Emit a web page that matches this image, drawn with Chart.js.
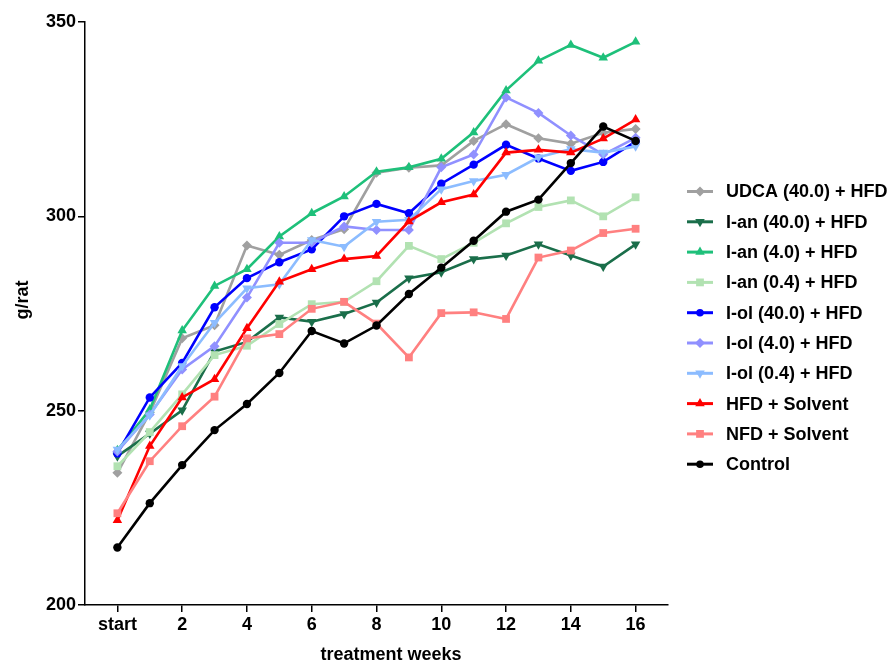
<!DOCTYPE html>
<html>
<head>
<meta charset="utf-8">
<script src="https://cdn.jsdelivr.net/npm/chart.js@4"></script>
<style>
  html, body { margin: 0; padding: 0; background: #fff; }
  #wrap { width: 896px; height: 662px; }
</style>
</head>
<body>
<div id="wrap"><canvas id="weights" width="896" height="662"></canvas></div>
<script>
// body weight per group, week 0 ("start") to week 16
const weeks = [0, 1, 2, 3, 4, 5, 6, 7, 8, 9, 10, 11, 12, 13, 14, 15, 16];
const tickWeeks = [0, 2, 4, 6, 8, 10, 12, 14, 16];
const tickLabels = ["start", "2", "4", "6", "8", "10", "12", "14", "16"];

const udca40 = [234.0, 249.5, 268.6, 272.0, 292.5, 290.1, 293.9, 296.7, 311.2, 312.5, 313.1, 319.4, 323.7, 320.1, 318.7, 321.5, 322.5];
const ian40 = [238.3, 244.1, 250.1, 265.2, 267.7, 274.0, 272.9, 274.9, 277.8, 284.1, 285.6, 289.0, 289.9, 292.8, 289.9, 287.1, 292.8];
const ian4 = [239.8, 250.3, 270.6, 282.1, 286.4, 294.8, 300.8, 305.1, 311.5, 312.6, 314.8, 321.6, 332.4, 340.0, 344.1, 340.8, 344.9];
const ian04 = [235.7, 244.5, 254.2, 264.3, 266.7, 272.3, 277.4, 278.0, 283.3, 292.4, 289.0, 293.2, 298.2, 302.4, 304.1, 300.0, 304.9];
const iol40 = [239.0, 253.4, 262.3, 276.6, 284.1, 288.2, 291.5, 300.0, 303.2, 300.8, 308.4, 313.3, 318.4, 314.9, 311.7, 314.0, 319.2];
const iol4 = [239.5, 249.0, 260.6, 266.6, 279.1, 293.2, 293.2, 297.4, 296.5, 296.5, 312.6, 315.9, 330.6, 326.6, 320.8, 315.9, 320.2];
const iol04 = [240.0, 248.8, 261.5, 272.6, 281.5, 282.5, 293.9, 292.2, 298.6, 299.1, 307.0, 309.1, 310.7, 315.2, 317.3, 316.4, 318.0];
const hfdSolvent = [221.8, 240.9, 253.4, 258.1, 271.2, 283.2, 286.4, 289.0, 289.8, 298.7, 303.6, 305.6, 316.4, 317.1, 316.4, 320.0, 324.9];
const nfdSolvent = [223.6, 237.0, 246.0, 253.6, 268.6, 269.7, 276.2, 278.0, 272.4, 263.7, 275.1, 275.3, 273.6, 289.4, 291.2, 295.7, 296.8];
const control = [214.8, 226.2, 236.0, 245.0, 251.7, 259.7, 270.5, 267.3, 271.9, 280.0, 286.8, 293.7, 301.2, 304.3, 313.7, 323.1, 319.4];

const FONT = "'Liberation Sans', Arial, sans-serif";

const groups = [
  { label: "UDCA (40.0) + HFD", data: udca40, color: "#a0a0a0", style: "rectRot", rot: 0, r: 5 },
  { label: "I-an (40.0) + HFD", data: ian40, color: "#1a6e4a", style: "triangle", rot: 180, r: 5.5 },
  { label: "I-an (4.0) + HFD", data: ian4, color: "#1ec07a", style: "triangle", rot: 0, r: 5.5 },
  { label: "I-an (0.4) + HFD", data: ian04, color: "#b2e2b2", style: "rect", rot: 0, r: 5.5 },
  { label: "I-ol (40.0) + HFD", data: iol40, color: "#0000ff", style: "circle", rot: 0, r: 4.2 },
  { label: "I-ol (4.0) + HFD", data: iol4, color: "#9090ff", style: "rectRot", rot: 0, r: 5 },
  { label: "I-ol (0.4) + HFD", data: iol04, color: "#8cbcff", style: "triangle", rot: 180, r: 5.5 },
  { label: "HFD + Solvent", data: hfdSolvent, color: "#ff0000", style: "triangle", rot: 0, r: 5.5 },
  { label: "NFD + Solvent", data: nfdSolvent, color: "#ff8080", style: "rect", rot: 0, r: 5.5 },
  { label: "Control", data: control, color: "#000000", style: "circle", rot: 0, r: 4.2 },
];

// small marker painter for the hand-made legend
const drawMarker = (ctx, style, rot, r, x, y, color) => {
  ctx.save();
  ctx.fillStyle = color;
  ctx.translate(x, y);
  ctx.rotate(rot * Math.PI / 180);
  ctx.beginPath();
  if (style == "circle") {
    ctx.arc(0, 0, r * 0.9, 0, Math.PI * 2);
  } else if (style == "rect") {
    const s = r * Math.SQRT1_2;
    ctx.rect(-s, -s, 2 * s, 2 * s);
  } else if (style == "rectRot") {
    ctx.moveTo(0, -r); ctx.lineTo(r, 0); ctx.lineTo(0, r); ctx.lineTo(-r, 0);
  } else {
    const a = -Math.PI / 2, t = Math.PI * 2 / 3;
    ctx.moveTo(Math.cos(a) * r, Math.sin(a) * r);
    ctx.lineTo(Math.cos(a + t) * r, Math.sin(a + t) * r);
    ctx.lineTo(Math.cos(a + 2 * t) * r, Math.sin(a + 2 * t) * r);
  }
  ctx.closePath();
  ctx.fill();
  ctx.restore();
};

const legendAndTitles = {
  id: "legendAndTitles",
  afterDraw(chart) {
    const ctx = chart.ctx;
    ctx.save();
    ctx.font = "bold 18px " + FONT;
    ctx.textBaseline = "middle";
    ctx.textAlign = "left";
    const top = 191.5, step = 30.3;
    chart.data.datasets.forEach((ds, i) => {
      const g = groups[i];
      const y = top + i * step;
      ctx.strokeStyle = g.color;
      ctx.lineWidth = 3;
      ctx.beginPath();
      ctx.moveTo(687, y);
      ctx.lineTo(713, y);
      ctx.stroke();
      drawMarker(ctx, g.style, g.rot, g.r, 700, y, g.color);
      ctx.fillStyle = "#000";
      ctx.fillText(ds.label, 726, y + 1);
    });

    // axis titles
    ctx.textAlign = "center";
    ctx.fillText("treatment weeks", 391, 655);
    ctx.translate(23, 300);
    ctx.rotate(-Math.PI / 2);
    ctx.fillText("g/rat", 0, 0);
    ctx.restore();
  },
};

const ctx = document.getElementById("weights").getContext("2d");
new Chart(ctx, {
  type: "line",
  data: {
    datasets: groups.map((g, i) => ({
      label: g.label,
      data: g.data.map((v, k) => ({ x: weeks[k], y: v })),
      borderColor: g.color,
      backgroundColor: g.color,
      borderWidth: 2.6,
      pointStyle: g.style,
      rotation: g.rot,
      pointRadius: g.r,
      pointBorderWidth: 0,
      tension: 0,
      order: groups.length - i,
    })),
  },
  options: {
    responsive: false,
    animation: false,
    layout: { padding: { top: 22, right: 228, left: 0, bottom: 0 } },
    plugins: { legend: { display: false }, tooltip: { enabled: false } },
    scales: {
      x: {
        type: "linear",
        min: -1,
        max: 17,
        afterBuildTicks: (scale) => {
          scale.ticks = tickWeeks.map((v) => ({ value: v }));
        },
        afterFit: (scale) => { scale.height = 57; },
        grid: { drawOnChartArea: false, drawTicks: true, tickLength: 7, tickColor: "#000", lineWidth: 1.5 },
        border: { display: true, color: "#000", width: 1.5 },
        ticks: {
          color: "#000",
          padding: 2,
          autoSkip: false,
          maxRotation: 0,
          font: { family: FONT, size: 18, weight: "bold" },
          callback: (v) => tickLabels[tickWeeks.indexOf(v)],
        },
      },
      y: {
        min: 200,
        max: 350,
        afterFit: (scale) => { scale.width = 85; },
        grid: { drawOnChartArea: false, drawTicks: true, tickLength: 7, tickColor: "#000", lineWidth: 1.5 },
        border: { display: true, color: "#000", width: 1.5 },
        ticks: {
          stepSize: 50,
          color: "#000",
          padding: 2,
          font: { family: FONT, size: 18, weight: "bold" },
        },
      },
    },
  },
  plugins: [legendAndTitles],
});
</script>
</body>
</html>
